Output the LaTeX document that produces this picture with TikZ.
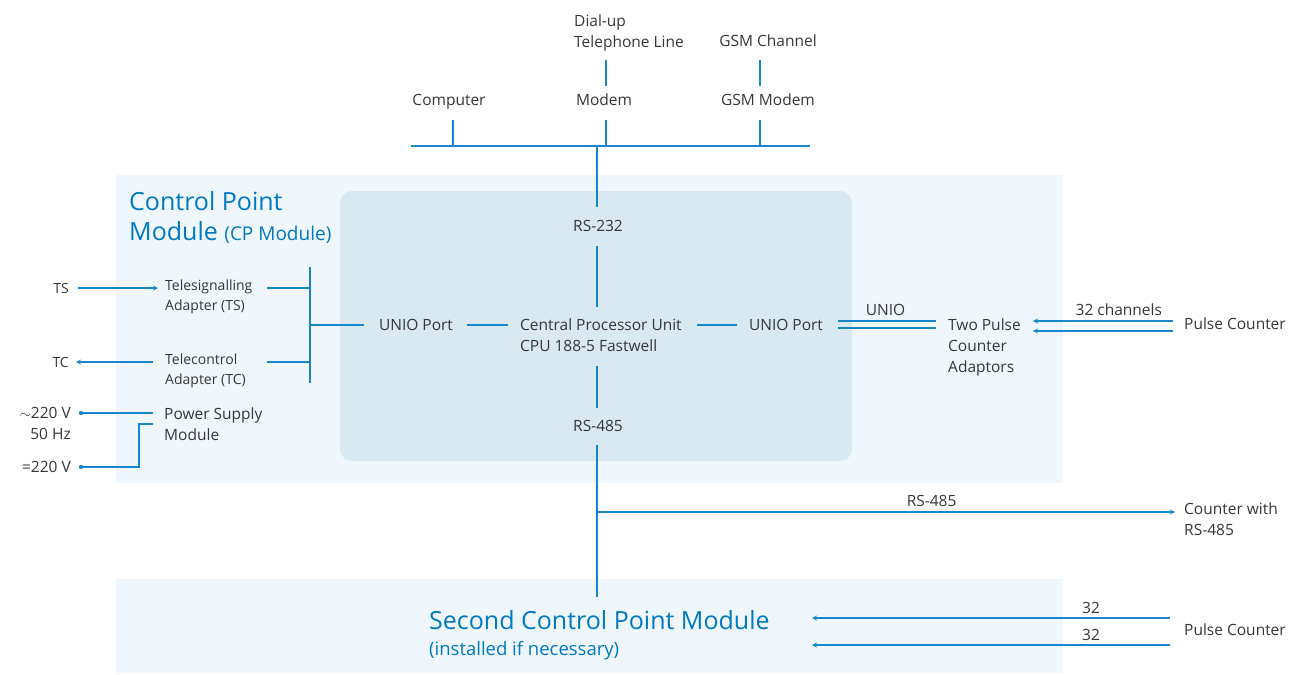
\documentclass[tikz,border=0pt]{standalone}
\usepackage{fontspec}
\setmainfont{Open Sans}
\usetikzlibrary{arrows,shapes}
\definecolor{wireblue}{RGB}{24,134,202}
\definecolor{titleblue}{RGB}{0,121,193}
\definecolor{txtgray}{RGB}{55,55,55}
\definecolor{cpbg}{RGB}{239,247,253}
\definecolor{cpuarea}{RGB}{216,233,242}
\tikzstyle{lbl}=[inner sep=0pt,text=txtgray,font=\fontsize{15.5}{21}\selectfont,text height=12pt,text depth=2pt]
\tikzstyle{blk}=[inner sep=0pt,text=txtgray,font=\fontsize{15.5}{21}\selectfont,align=left]
\tikzstyle{sblk}=[inner sep=0pt,text=txtgray,font=\fontsize{14}{20}\selectfont,align=left]
\tikzstyle{ttl}=[inner sep=0pt,text=titleblue,align=left]
\tikzstyle{wire}=[draw=wireblue,line width=1.2pt,>=stealth]

\begin{document}
\begin{tikzpicture}[x=1pt,y=-1pt]
\useasboundingbox (0,0) rectangle (1289,674);
% module areas
\fill[cpbg] (116,175) rectangle (1063,483);
\fill[cpuarea,rounded corners=12pt] (340,191) rectangle (852,461);
\fill[cpbg] (116,579) rectangle (1063,673);

% communication bus
\node[blk,anchor=north west] (dial) at (574,15) {Dial-up\\Telephone Line};
\node[lbl] (gsmch) at (768,42) {GSM Channel};
\node[lbl] (pc) at (449,101) {Computer};
\node[lbl] (mdm) at (604,101) {Modem};
\node[lbl] (gsm) at (768,101) {GSM Modem};
\coordinate (busL) at (411,146);
\coordinate (busR) at (810,146);
\coordinate (tapPC) at (453,146);
\coordinate (tapMdm) at (606,146);
\coordinate (tapGSM) at (760,146);
\coordinate (tapCP) at (597,146);
\draw[wire] (busL) -- (busR);
\draw[wire,shorten >=12pt] (tapPC) -- (tapPC |- pc.south);
\draw[wire,shorten >=12pt] (tapMdm) -- (tapMdm |- mdm.south);
\draw[wire,shorten >=12pt] (tapGSM) -- (tapGSM |- gsm.south);
\draw[wire,shorten <=8pt,shorten >=8pt] (tapMdm |- dial.south) -- (tapMdm |- mdm.north);
\draw[wire,shorten <=11pt,shorten >=8pt] (tapGSM |- gsmch.south) -- (tapGSM |- gsm.north);

% control point module
\node[ttl,anchor=north west,font=\fontsize{25}{30}\selectfont] (cpt) at (129,191) {Control Point\\Module {\fontsize{19}{30}\selectfont(CP Module)}};
\node[lbl] (rsa) at (598,226) {RS-232};
\node[blk,anchor=west] (cpu) at (520,335) {Central Processor Unit\\CPU 188-5 Fastwell};
\node[lbl] (rsb) at (598,426) {RS-485};
\node[lbl] (uniL) at (416,325) {UNIO Port};
\node[lbl] (uniR) at (786,325) {UNIO Port};
\draw[wire,shorten >=12pt] (tapCP) -- (tapCP |- rsa.north);
\draw[wire,shorten <=13pt,shorten >=11pt] (tapCP |- rsa.south) -- (tapCP |- cpu.north);
\draw[wire,shorten <=14pt,shorten >=11pt] (tapCP |- cpu.south) -- (tapCP |- rsb.north);
\coordinate (cp2in) at (597,597);
\draw[wire,shorten <=12pt] (tapCP |- rsb.south) -- (cp2in);
\draw[wire,shorten <=14pt,shorten >=12pt] (uniL.east) -- (uniL.east -| cpu.west);
\draw[wire,shorten <=15pt,shorten >=12pt] (uniR.west -| cpu.east) -- (uniR.west);

% adapters
\node[sblk,anchor=west] (tsa) at (165,297) {Telesignalling\\Adapter (TS)};
\node[sblk,anchor=west] (tca) at (165,371) {Telecontrol\\Adapter (TC)};
\node[lbl,font=\fontsize{14}{20}\selectfont,anchor=east] (ts) at (69,288) {TS};
\node[lbl,font=\fontsize{14}{20}\selectfont,anchor=east] (tc) at (69,362) {TC};
\coordinate (barT) at (310,267);
\coordinate (barB) at (310,383);
\coordinate (jTS) at (310,288);
\coordinate (jTC) at (310,362);
\coordinate (jU) at (310,325);
\draw[wire] (barT) -- (barB);
\draw[wire,shorten >=14pt] (jTS) -- (jTS -| tsa.east);
\draw[wire,shorten >=14pt] (jTC) -- (jTC -| tsa.east);
\draw[wire,shorten >=15pt] (jU) -- (jU -| uniL.west);
\draw[wire,->,shorten <=9pt,shorten >=7pt] (ts.east) -- (ts.east -| tsa.west);
\draw[wire,->,shorten <=12pt,shorten >=7pt] (tc.east -| tca.west) -- (tc.east);

% power supply
\node[blk,anchor=west] (psu) at (164,424) {Power Supply\\Module};
\node[lbl,anchor=east] (ac) at (71,413) {$\sim$220 V};
\node[lbl,anchor=east] (hz) at (71,434) {50 Hz};
\node[lbl,anchor=east] (dc) at (71,467) {=220 V};
\fill[wireblue] ([xshift=10pt]ac.east) circle (2.2pt);
\fill[wireblue] ([xshift=10pt]dc.east) circle (2.2pt);
\draw[wire,shorten >=11pt] ([xshift=10pt]ac.east) -- (ac.east -| psu.west);
\draw[wire] ([xshift=10pt]dc.east) -| ([xshift=-25pt]psu.west) -- ([xshift=-11pt]psu.west);

% pulse counters
\node[blk,anchor=west] (pca) at (948,347) {Two Pulse\\Counter\\Adaptors};
\node[lbl,anchor=west] (cnt1) at (1184,324) {Pulse Counter};
\draw[wire,shorten <=15pt,shorten >=12pt] ([yshift=4pt]uniR.east) -- ([yshift=4pt]uniR.east -| pca.west) node[midway,above=3pt,lbl] {UNIO};
\draw[wire,shorten <=15pt,shorten >=12pt] ([yshift=-3pt]uniR.east) -- ([yshift=-3pt]uniR.east -| pca.west);
\draw[wire,->,shorten <=11pt,shorten >=12pt] ([yshift=3pt]cnt1.west) -- ([yshift=3pt]cnt1.west -| pca.east) node[pos=0.4,above=3pt,lbl] {32 channels};
\draw[wire,->,shorten <=11pt,shorten >=12pt] ([yshift=-7pt]cnt1.west) -- ([yshift=-7pt]cnt1.west -| pca.east);

% RS-485 line
\coordinate (br) at (597,512);
\node[blk,anchor=west] (cnt485) at (1184,519) {Counter with\\RS-485};
\draw[wire,->,shorten >=9pt] (br) -- (br -| cnt485.west) node[pos=0.57,above=3pt,lbl] {RS-485};

% second module
\node[ttl,anchor=north west,font=\fontsize{25}{26}\selectfont] (cp2) at (429,610) {Second Control Point Module\\{\fontsize{18.5}{25}\selectfont(installed if necessary)}};
\node[lbl,anchor=west] (cnt2) at (1184,630) {Pulse Counter};
\coordinate (cp2inA) at (812,618);
\coordinate (cp2inB) at (812,645);
\draw[wire,->,shorten <=14pt] (cnt2.west |- cp2inA) -- (cp2inA) node[pos=0.25,above=2pt,lbl] {32};
\draw[wire,->,shorten <=14pt] (cnt2.west |- cp2inB) -- (cp2inB) node[pos=0.25,above=2pt,lbl] {32};
\end{tikzpicture}
\end{document}
